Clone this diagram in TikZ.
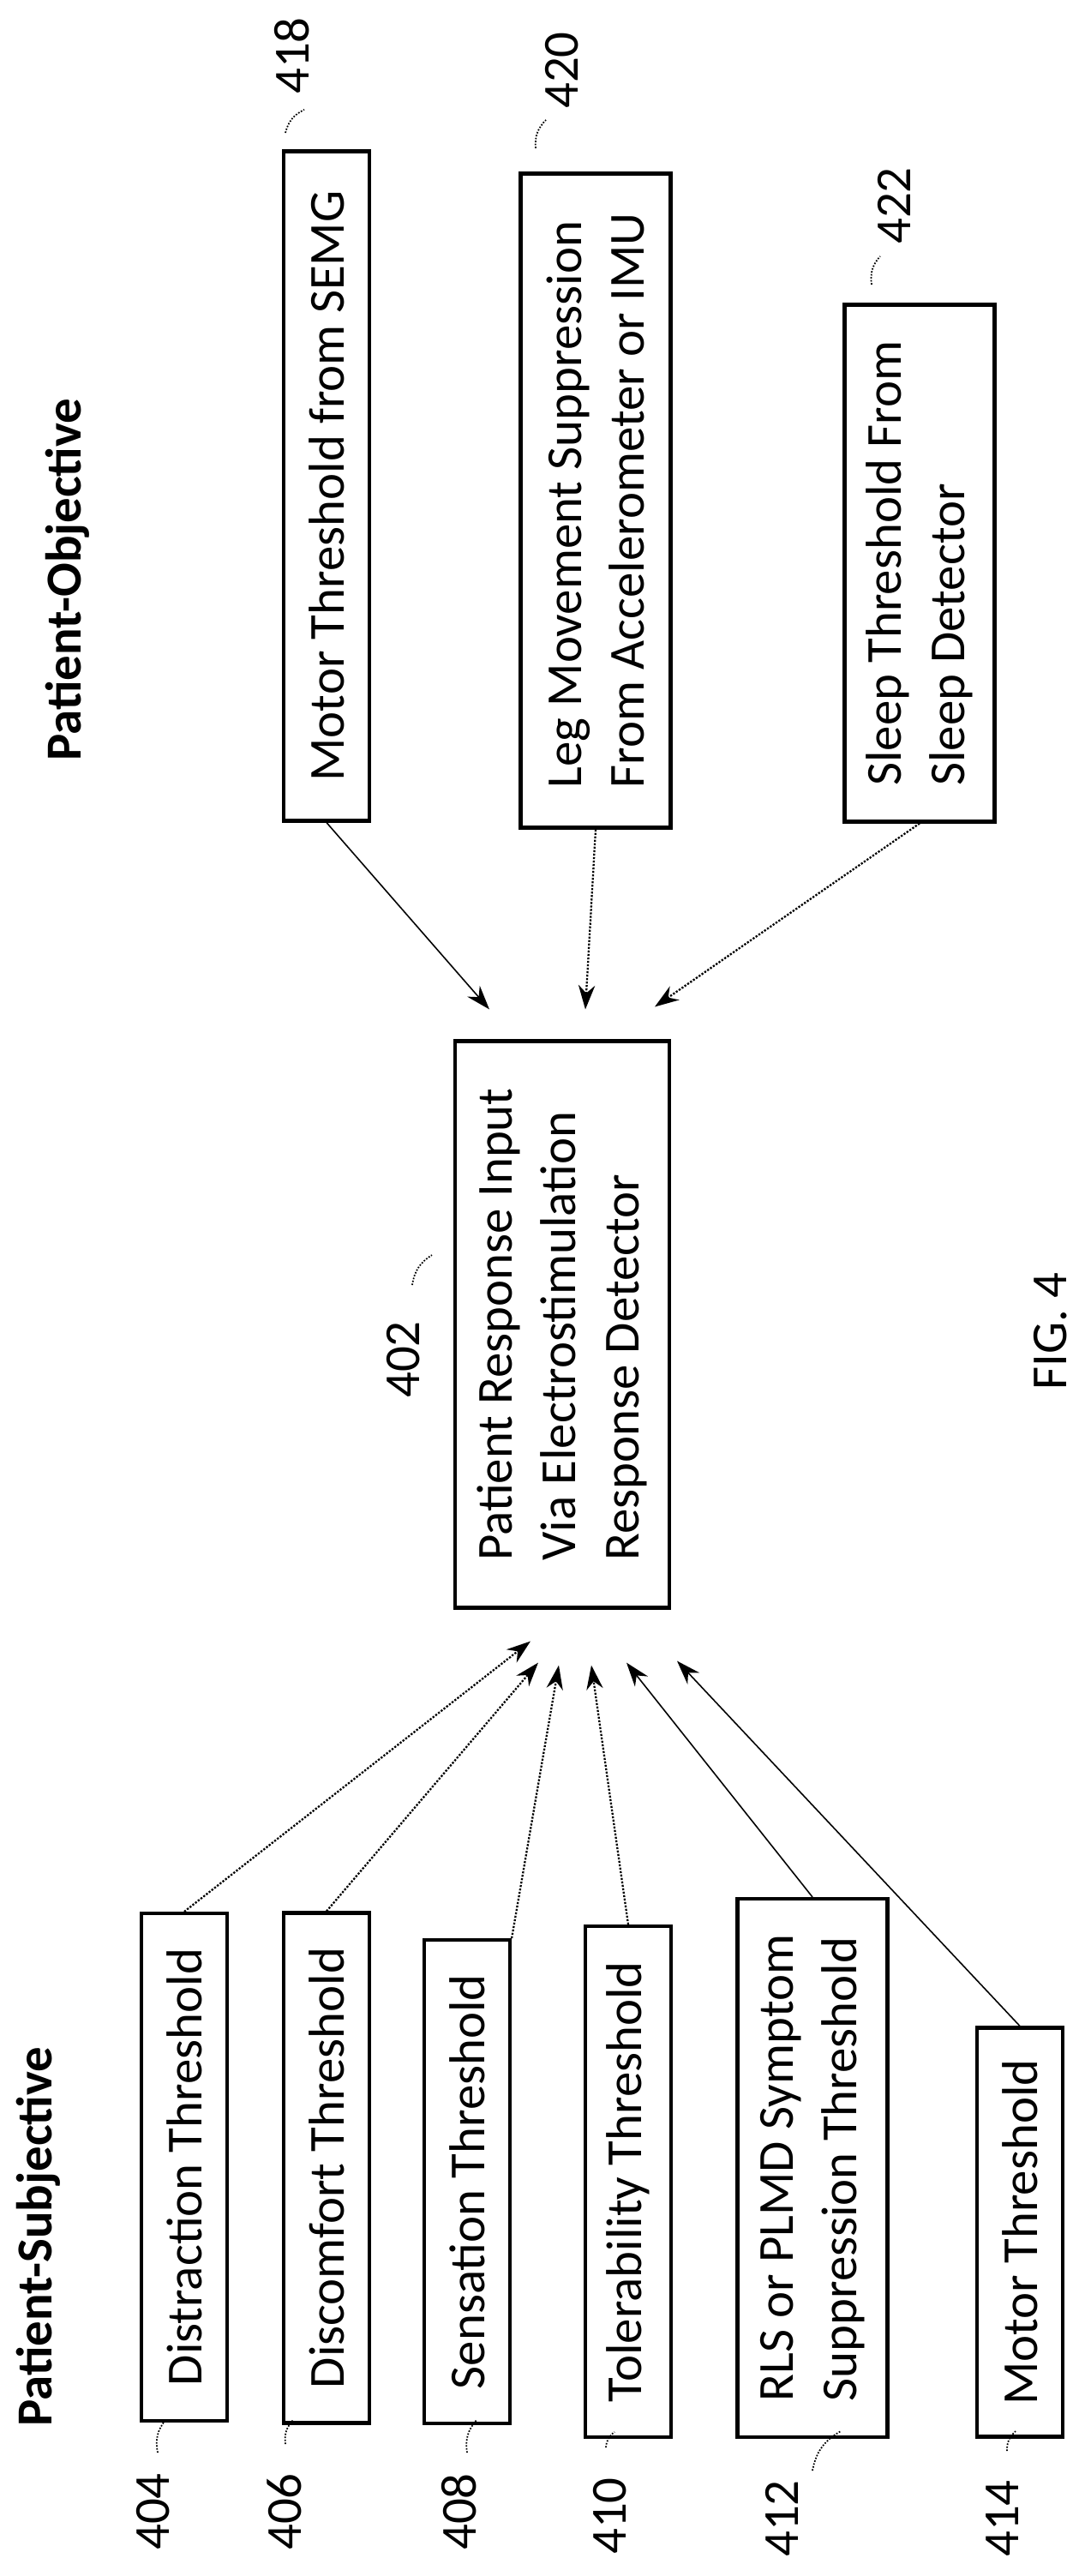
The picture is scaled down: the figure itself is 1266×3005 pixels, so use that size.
\documentclass[tikz,border=0pt]{standalone}
\usepackage{fontspec}
\setmainfont{Carlito}
\usetikzlibrary{calc,arrows.meta}

\begin{document}
\begin{tikzpicture}[
        x=0.02cm, y=-0.02cm,
        every node/.style={font=\fontsize{33.5}{42}\selectfont, rotate=90},
        box/.style={draw, line width=2.4pt, align=left, inner xsep=0pt, inner ysep=0pt, minimum height=2cm},
        tall/.style={minimum height=3.5cm},
        title/.style={font=\fontsize{33.5}{42}\selectfont\bfseries},
        dotarr/.style={densely dotted, line width=1.3pt, -{Stealth[length=16pt,width=11pt]}},
        solarr/.style={line width=0.9pt, -{Stealth[length=16pt,width=11pt]}},
        leader/.style={densely dotted, line width=1pt}
    ]
    \useasboundingbox (0,0) rectangle (1266,3005);

    % Central block
    \node[box, minimum width=13.22cm, minimum height=5cm] (m) at (656,1545) {Patient Response Input\\Via Electrostimulation\\Response Detector};
    \node (l402) at (471,1586) {402};

    % Titles
    \node[title] (tsub) at (45,2609) {Patient-Subjective};
    \node[title] (tobj) at (79,676) {Patient-Objective};
    \node (fig) at (1226,1553) {FIG. 4};

    % Patient-subjective thresholds
    \node[box, minimum width=11.84cm] (b404) at (215,2528) {Distraction Threshold};
    \node[box, minimum width=11.9cm]  (b406) at (381,2529) {Discomfort Threshold};
    \node[box, minimum width=11.28cm] (b408) at (545,2545) {Sensation Threshold};
    \node[box, minimum width=11.92cm] (b410) at (733,2545) {Tolerability Threshold};
    \node[box, tall, minimum width=12.56cm] (b412) at (948,2529) {RLS or PLMD Symptom\\Suppression Threshold};
    \node[box, minimum width=9.54cm]  (b414) at (1190,2604) {Motor Threshold};

    % Patient-objective thresholds
    \node[box, minimum width=15.62cm] (b418) at (381,567) {Motor Threshold from SEMG};
    \node[box, tall, minimum width=15.26cm] (b420) at (695,584) {Leg Movement Suppression\\From Accelerometer or IMU};
    \node[box, tall, minimum width=12.06cm] (b422) at (1073,657) {Sleep Threshold From\\Sleep Detector};

    % Reference numerals
    \foreach \n/\x/\y in {404/179/2930, 406/332/2930, 408/536/2930, 410/712/2935, 412/912/2938, 414/1170/2938}
        \node (l\n) at (\x,\y) {\n};
    \foreach \n/\x/\y in {418/341/65, 420/656/82, 422/1043/240}
        \node (l\n) at (\x,\y) {\n};

    % Connectors into the detector
    \draw[dotarr] (b404.east) -- ($(m.west)+(-37,37)$);
    \draw[dotarr] (b406.east) -- ($(m.west)+(-28,62)$);
    \draw[dotarr] (b408.south east) -- ($(m.west)+(-4,65)$);
    \draw[dotarr] (b410.east) -- ($(m.west)+(34,65)$);
    \draw[solarr] (b412.east) -- ($(m.west)+(75,62)$);
    \draw[solarr] (b414.east) -- ($(m.west)+(134,60)$);
    \draw[solarr] (b418.west) -- ($(m.east)+(-85,-35)$);
    \draw[dotarr] (b420.west) -- ($(m.east)+(27,-35)$);
    \draw[dotarr] (b422.west) -- ($(m.east)+(108,-38)$);

    % Leader lines
    \foreach \n/\a/\b/\c/\d in {404/5/-18/14/-56, 406/1/-28/10/-56, 408/9/-18/20/-56, 410/-5/-29/5/-47, 412/36/-5/69/-51, 414/5/-28/15/-51, 402/10/-36/33/-71}
        \draw[leader] ($(l\n.east)+(\a,\b)$) to[bend left=25] ($(l\n.east)+(\c,\d)$);
    \foreach \n/\a/\b/\c/\d in {418/-8/39/14/12, 420/-31/40/-19/7, 422/-26/41/-16/8}
        \draw[leader] ($(l\n.west)+(\a,\b)$) to[bend left=25] ($(l\n.west)+(\c,\d)$);
\end{tikzpicture}
\end{document}
